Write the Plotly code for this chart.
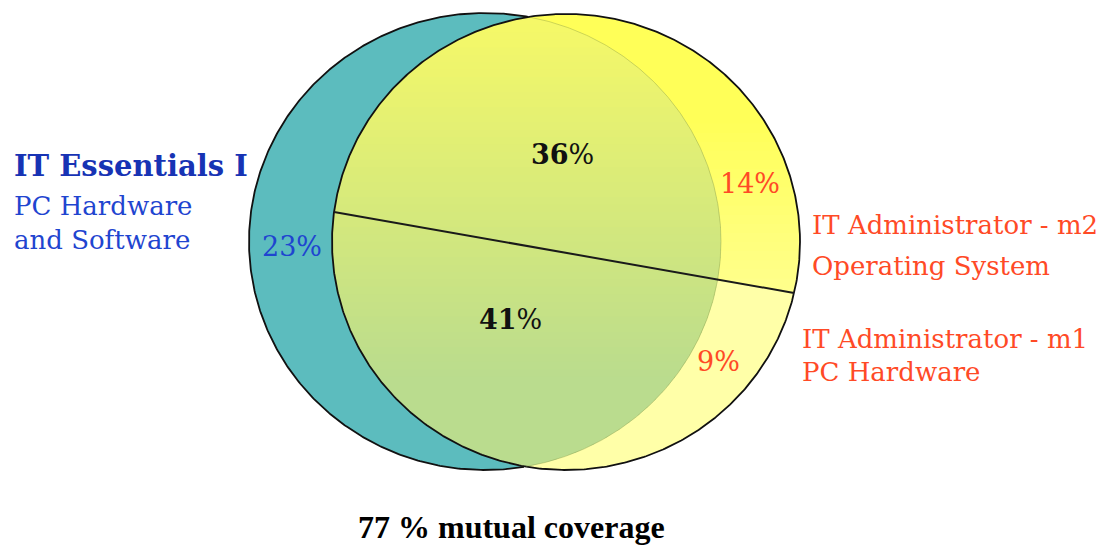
import numpy as np
import plotly.graph_objects as go

# ---------------- data ----------------
region_names = ["IT Essentials I only", "Overlap (m2 part)", "Overlap (m1 part)",
                "IT Administrator m2 only", "IT Administrator m1 only"]
region_percent = [23, 36, 41, 14, 9]
region_bold = [False, True, True, False, False]
mutual_coverage = 77
left_set_lines = ["IT Essentials I", "PC Hardware", "and Software"]
m2_set_lines = ["IT Administrator - m2", "Operating System"]
m1_set_lines = ["IT Administrator - m1", "PC Hardware"]

# ---------------- layout geometry (pixel space) ----------------
W, H = 1110, 545
TEAL = (485.0, 241.5, 236.0, 228.5)   # cx, cy, rx, ry
YEL = (566.0, 242.0, 234.0, 228.0)
DIV_T = (3.2736, 0.2256)              # divider end angles on yellow ellipse
region_pos = [(292, 246), (562, 154), (510, 319), (750, 183), (718, 361)]
region_color = ["#1f45d0", "#111111", "#111111", "#ff4a26", "#ff4a26"]

C_TEAL = "#5cbcbe"
C_YEL_LOW = "#ffffa8"
BLUE = "#1f45d0"
BLUE_DARK = "#1733b4"
RED = "#ff4a26"


def ell(e, t):
    cx, cy, rx, ry = e
    return cx + rx * np.cos(t), cy + ry * np.sin(t)


def xrange_at(e, y):
    cx, cy, rx, ry = e
    v = 1 - ((y - cy) / ry) ** 2
    v = np.clip(v, 0, None)
    d = rx * np.sqrt(v)
    return cx - d, cx + d


def inside(e, x, y):
    cx, cy, rx, ry = e
    return ((x - cx) / rx) ** 2 + ((y - cy) / ry) ** 2 < 1


def gradient_strips(fig, ells, c_top, c_bot, g0, g1, nb=60):
    """Fill the intersection of the given ellipses with a vertical gradient."""
    ys = np.linspace(0, H, 2000)
    lo = np.full_like(ys, -1e9)
    hi = np.full_like(ys, 1e9)
    ok = np.ones_like(ys, dtype=bool)
    for e in ells:
        a, b = xrange_at(e, ys)
        lo = np.maximum(lo, a)
        hi = np.minimum(hi, b)
        ok &= np.abs(ys - e[1]) < e[3]
    valid = ok & (hi > lo)
    ytop, ybot = ys[valid].min(), ys[valid].max()
    edges = np.linspace(ytop, ybot, nb + 1)
    c_top = np.array(c_top, dtype=float)
    c_bot = np.array(c_bot, dtype=float)
    for i in range(nb):
        y0, y1 = edges[i], min(edges[i + 1] + 1.2, ybot)
        yy = np.linspace(y0, y1, 8)
        L = np.full_like(yy, -1e9)
        R = np.full_like(yy, 1e9)
        for e in ells:
            a, b = xrange_at(e, yy)
            L = np.maximum(L, a)
            R = np.minimum(R, b)
        px = np.concatenate([L, R[::-1], L[:1]])
        py = np.concatenate([yy, yy[::-1], yy[:1]])
        f = np.clip((0.5 * (y0 + y1) - g0) / (g1 - g0), 0, 1)
        c = (c_top * (1 - f) + c_bot * f).astype(int)
        fig.add_trace(go.Scatter(x=px, y=py, mode="lines", fill="toself",
                                 fillcolor=f"rgb({c[0]},{c[1]},{c[2]})",
                                 line=dict(width=0), hoverinfo="skip"))


fig = go.Figure()
t = np.linspace(0, 2 * np.pi, 721)

# teal set
x, y = ell(TEAL, t)
fig.add_trace(go.Scatter(x=x, y=y, mode="lines", fill="toself", fillcolor=C_TEAL,
                         line=dict(width=0), hoverinfo="skip"))
# yellow set (slight gradient: bright at top, lighter lower down)
gradient_strips(fig, [YEL], (255, 255, 88), (255, 255, 140), 120, 290, nb=50)
# lower part of yellow (below divider)
tt = np.linspace(DIV_T[1], DIV_T[0], 300)
x, y = ell(YEL, tt)
fig.add_trace(go.Scatter(x=np.append(x, x[0]), y=np.append(y, y[0]), mode="lines",
                         fill="toself", fillcolor=C_YEL_LOW, line=dict(width=0),
                         hoverinfo="skip"))
# overlap with vertical gradient
gradient_strips(fig, [TEAL, YEL], (246, 249, 104), (186, 220, 142), 20, 380, nb=60)

# outlines: teal outside yellow, full yellow outline
tx, ty = ell(TEAL, t)
m = inside(YEL, tx, ty)
fig.add_trace(go.Scatter(x=np.where(m, np.nan, tx), y=np.where(m, np.nan, ty), mode="lines",
                         line=dict(color="#111111", width=1.8),
                         hoverinfo="skip", connectgaps=False))
x, y = ell(YEL, t)
fig.add_trace(go.Scatter(x=x, y=y, mode="lines", line=dict(color="#111111", width=1.8),
                         hoverinfo="skip"))
# faint teal boundary inside yellow
fig.add_trace(go.Scatter(x=np.where(m, tx, np.nan), y=np.where(m, ty, np.nan), mode="lines",
                         line=dict(color="rgba(120,140,60,0.35)", width=1),
                         hoverinfo="skip", connectgaps=False))

# divider line
dx, dy = ell(YEL, np.array(DIV_T))
fig.add_trace(go.Scatter(x=dx, y=dy, mode="lines", line=dict(color="#1a1a1a", width=2),
                         hoverinfo="skip"))

ann = []
SERIF = "DejaVu Serif"
for name, v, b, (px_, py_), col in zip(region_names, region_percent, region_bold,
                                        region_pos, region_color):
    txt = f"<b>{v}</b>%" if b else f"{v}%"
    ann.append(dict(x=px_, y=py_, text=txt, showarrow=False, xanchor="center", yanchor="middle",
                    font=dict(family=SERIF, size=27, color=col)))

left_y = [166, 206, 240]
for i, (s, yv) in enumerate(zip(left_set_lines, left_y)):
    ann.append(dict(x=12, y=yv, text=f"<b>{s}</b>" if i == 0 else s, showarrow=False,
                    xanchor="left", yanchor="middle",
                    font=dict(family=SERIF, size=29 if i == 0 else 26,
                              color=BLUE_DARK if i == 0 else BLUE)))
for s, yv in zip(m2_set_lines, [225, 266]):
    ann.append(dict(x=810, y=yv, text=s, showarrow=False, xanchor="left", yanchor="middle",
                    font=dict(family=SERIF, size=26, color=RED)))
for s, yv in zip(m1_set_lines, [339, 372]):
    ann.append(dict(x=800, y=yv, text=s, showarrow=False, xanchor="left", yanchor="middle",
                    font=dict(family=SERIF, size=26, color=RED)))
ann.append(dict(x=511, y=527, text=f"<b>{mutual_coverage} % mutual coverage</b>", showarrow=False,
                xanchor="center", yanchor="middle",
                font=dict(family="Liberation Serif", size=32, color="#000000")))

fig.update_layout(
    width=W, height=H, autosize=False,
    margin=dict(l=0, r=0, t=0, b=0),
    paper_bgcolor="white", plot_bgcolor="white",
    showlegend=False,
    xaxis=dict(range=[0, W], visible=False, fixedrange=True),
    yaxis=dict(range=[H, 0], visible=False, fixedrange=True),
    annotations=ann,
)
fig.write_html("out.html", config={"displayModeBar": False},
               post_script="document.body.style.margin='0px';document.body.style.overflow='hidden';")
